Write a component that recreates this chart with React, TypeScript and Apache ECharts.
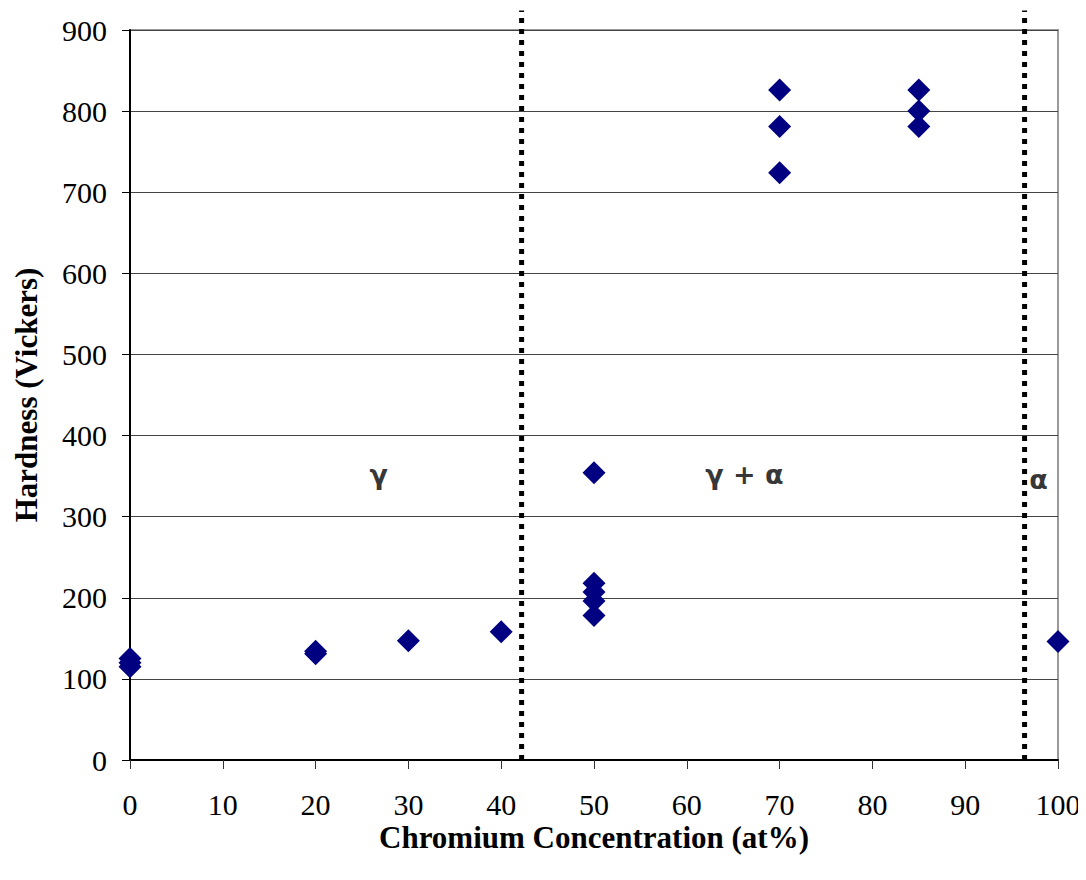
import React, { useEffect, useRef } from "react";
import * as echarts from "echarts";

const xTicks = [0, 10, 20, 30, 40, 50, 60, 70, 80, 90, 100];
const chromium = [0, 0, 0, 20, 20, 30, 40, 50, 50, 50, 50, 50, 70, 70, 70, 85, 85, 85, 100];
const hardness = [115, 120, 125, 131, 134, 147, 158, 354, 218, 207, 196, 178, 826, 781, 724, 826, 800, 781, 146];

const boundaryX = [42.2, 96.4];
const boundaryY = [0, 924];

const phaseNames = ["γ", "γ + α", "α"];
const phaseX = [26.8, 66.2, 97.9];
const phaseY = [352, 352, 346];

export default function App() {
  const ref = useRef<HTMLDivElement>(null);
  useEffect(() => {
    if (!ref.current) return;
    const chart = echarts.init(ref.current, undefined, { renderer: "svg" });
    const serif = "'Liberation Serif', 'Times New Roman', serif";
    const points = chromium.map((c, i) => [c, hardness[i]]);
    const boundarySeries = boundaryX.map((bx, i) => ({
      type: "line",
      name: "boundary" + i,
      data: boundaryY.map((by) => [bx, by]),
      symbol: "none",
      clip: false,
      silent: true,
      z: 1,
      lineStyle: { color: "#000", width: 5, type: [5, 6] },
    }));
    chart.setOption({
      animation: false,
      backgroundColor: "#fff",
      grid: {
        left: 130,
        right: 28,
        top: 30,
        bottom: 120,
        show: true,
        borderColor: "#999",
        borderWidth: 2,
        backgroundColor: "transparent",
      },
      xAxis: {
        type: "value",
        min: 0,
        max: 100,
        interval: 10,
        name: "Chromium Concentration (at%)",
        nameLocation: "middle",
        nameGap: 62,
        nameMoveOverlap: false,
        nameTextStyle: { fontFamily: serif, fontSize: 31, fontWeight: "bold", color: "#000" },
        axisLine: { show: true, lineStyle: { color: "#000", width: 2 } },
        axisTick: { show: true, length: 9, lineStyle: { color: "#333", width: 1 } },
        axisLabel: { fontFamily: serif, fontSize: 30, color: "#000", margin: 29 },
        splitLine: { show: false },
      },
      yAxis: {
        type: "value",
        min: 0,
        max: 900,
        interval: 100,
        name: "Hardness (Vickers)",
        nameLocation: "middle",
        nameGap: 88,
        nameTextStyle: { fontFamily: serif, fontSize: 31, fontWeight: "bold", color: "#000" },
        axisLine: { show: true, lineStyle: { color: "#000", width: 2 } },
        axisTick: { show: true, length: 8, lineStyle: { color: "#000", width: 1 } },
        axisLabel: { fontFamily: serif, fontSize: 30, color: "#000", margin: 23 },
        splitLine: { show: true, lineStyle: { color: "#444", width: 1 } },
      },
      series: [
        ...boundarySeries,
        {
          type: "scatter",
          name: "Hardness",
          data: points,
          symbol: "diamond",
          symbolSize: 23,
          clip: false,
          z: 3,
          itemStyle: { color: "#000080", opacity: 1 },
        },
        {
          type: "scatter",
          name: "phases",
          data: phaseNames.map((n, i) => ({ value: [phaseX[i], phaseY[i]], name: n })),
          symbolSize: 0,
          z: 4,
          label: {
            show: true,
            position: "inside",
            formatter: (p: any) => p.name,
            fontFamily: "'DejaVu Sans', sans-serif",
            fontWeight: "bold",
            fontSize: 27,
            color: "#000",
          },
        },
      ],
    });
    return () => chart.dispose();
  }, []);
  return <div ref={ref} style={{ width: 1086, height: 880, margin: -8 }} />;
}
